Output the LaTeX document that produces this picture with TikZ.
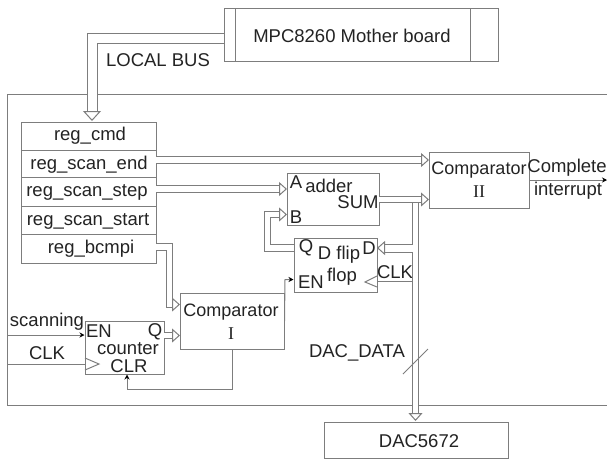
\documentclass[tikz,border=0pt]{standalone}
\usepackage{fontspec}
\setmainfont{Liberation Sans}
\newfontfamily\romanfont{Liberation Serif}
\usetikzlibrary{arrows.meta,calc}
\definecolor{linegray}{RGB}{125,125,125}
\definecolor{textgray}{RGB}{35,35,35}
\tikzset{
  label/.style={font=\fontsize{18.5}{20}\selectfont,text=textgray,inner sep=0pt},
  cmplabel/.style={font=\fontsize{18}{20}\selectfont,text=textgray,inner sep=0pt},
  numlabel/.style={font=\fontsize{18}{20}\romanfont,text=textgray,inner sep=0pt},
  block/.style={draw=linegray,line width=1pt,inner sep=0pt},
  wire/.style={draw=linegray,line width=1pt,-{Stealth[length=5pt,width=5pt,black]}},
  plainwire/.style={draw=linegray,line width=1pt},
  bus/.style={draw=linegray,line width=1pt,double=white,double distance=5.5pt,
    line join=miter,-{Triangle[open,fill=white,length=8pt,width=14pt]}},
  widebus/.style={bus,double distance=9pt,-{Triangle[open,fill=white,length=10pt,width=18pt]}},
}
\begin{document}
\begin{tikzpicture}[x=1pt,y=-1pt]
  \useasboundingbox (0,0) rectangle (607,459);
  % Outer board
  \draw[plainwire] (607,94) -- (7.5,94) -- (7.5,405) -- (607,405);
  % Blocks
  \node[block,minimum width=274pt,minimum height=53pt] (board) at (361,34.5) {};
  \node[label] (boardtext) at (352,36) {MPC8260 Mother board};
  \draw[plainwire] (235,8) -- (235,61);
  \draw[plainwire] (470,8) -- (470,61);
  \node[block,minimum width=135pt,minimum height=141pt] (regs) at (88.5,192.5) {};
  \foreach \y in {150,177,206,234}{
    \draw[plainwire] (21,\y) -- (156,\y);
  }
  \node[label] (regcmd) at (90,136) {reg\_cmd};
  \node[label] (regend) at (89,165) {reg\_scan\_end};
  \node[label] (regstep) at (87,192) {reg\_scan\_step};
  \node[label] (regstart) at (88,221) {reg\_scan\_start};
  \node[label] (regbcmpi) at (91,249) {reg\_bcmpi};
  \node[block,minimum width=100pt,minimum height=56pt] (cmptwo) at (479,180) {};
  \node[cmplabel] (cmptwotext) at (479,170) {Comparator};
  \node[numlabel] (cmptwonum) at (479,192) {II};
  \node[block,minimum width=92pt,minimum height=52pt] (adder) at (333,199) {};
  \node[label] (addera) at (296,182) {A};
  \node[label] (addertext) at (329,186) {adder};
  \node[label] (addersum) at (358,202) {SUM};
  \node[label] (adderb) at (296,217) {B};
  \node[block,minimum width=83pt,minimum height=54pt] (flop) at (335.5,265) {};
  \node[label] (flopq) at (306,248) {Q};
  \node[label] (floptext) at (339,255) {D flip};
  \node[label] (flopd) at (369,248) {D};
  \node[label] (flopen) at (311,282) {EN};
  \node[label] (floptexttwo) at (342,277) {flop};
  \node[label] (flopclk) at (395,272) {CLK};
  \node[block,minimum width=104pt,minimum height=56pt] (cmpone) at (232,321) {};
  \node[cmplabel] (cmponetext) at (231,312) {Comparator};
  \node[numlabel] (cmponenum) at (231,334) {I};
  \node[block,minimum width=79pt,minimum height=53pt] (counter) at (124.5,347.5) {};
  \node[label] (counteren) at (99,331) {EN};
  \node[label] (counterq) at (155,332) {Q};
  \node[label] (countertext) at (128,349) {counter};
  \node[label] (counterclr) at (129,366) {CLR};
  \node[block,minimum width=184pt,minimum height=36pt] (dac) at (416,440) {};
  \node[label] (dactext) at (419,441) {DAC5672};
  % Free labels
  \node[label] (localbus) at (158,60) {LOCAL BUS};
  \node[label] (scanning) at (47,322) {scanning};
  \node[label] (clk) at (47,353) {CLK};
  \node[label] (complete) at (567,168) {Complete};
  \node[label] (interrupt) at (568,191) {interrupt};
  \node[label] (dacdata) at (357,353) {DAC\_DATA};
  % Ports
  \coordinate (busout) at (224,38);
  \coordinate (regin) at (92,121);
  \coordinate (endout) at (156,160);
  \coordinate (endin) at (429,160);
  \coordinate (stepout) at (156,189);
  \coordinate (stepin) at (287,189);
  \coordinate (sumout) at (379,199.5);
  \coordinate (sumin) at (429,199.5);
  \coordinate (dacin) at (415.5,421);
  \coordinate (dacbus) at (415.5,202.5);
  \coordinate (dbranch) at (412.5,248);
  \coordinate (dport) at (377,248);
  \coordinate (qout) at (294,248);
  \coordinate (bin) at (287,214.5);
  \coordinate (bcmpiout) at (156,247);
  \coordinate (cmpbin) at (180,304.5);
  \coordinate (qcounter) at (164,335.5);
  \coordinate (qcmpin) at (180,335.5);
  % Buses
  \draw[widebus] (busout) -- (92,38) -- (regin);
  \draw[bus] (endout) -- (endin);
  \draw[bus] (stepout) -- (stepin);
  \draw[bus] (sumout) -- (sumin);
  \draw[bus] (dacbus) -- (dacin);
  \draw[bus,double distance=7pt] (dbranch) -- (dport);
  \draw[bus] (qout) -- (267.5,248) -- (267.5,214.5) -- (bin);
  \draw[bus] (bcmpiout) -- (169.5,247) -- (169.5,304.5) -- (cmpbin);
  \draw[bus] (qcounter) -- (qcmpin);
  % Control wires
  \draw[wire] (cmpone.east |- 0,321) -- (285,279.5) -- (flop.west |- 0,279.5);
  \draw[wire] (cmpone.south) -- (232,389) -- (127,389) -- (counter.south -| 127,0);
  \draw[wire] (7.5,335) -- (counter.west |- 0,335);
  \draw[wire] (cmptwo.east) -- (607,180);
  \draw[plainwire] (7.5,364) -- (counter.west |- 0,364);
  \draw[plainwire] (412,281) -- (377,281);
  % Clock marks
  \draw[plainwire] (85,358) -- (99,364) -- (85,370);
  \draw[plainwire] (377,276) -- (365,282) -- (377,287);
  % Bus width mark
  \draw[plainwire] (403,374) -- (428,349);
\end{tikzpicture}
\end{document}
